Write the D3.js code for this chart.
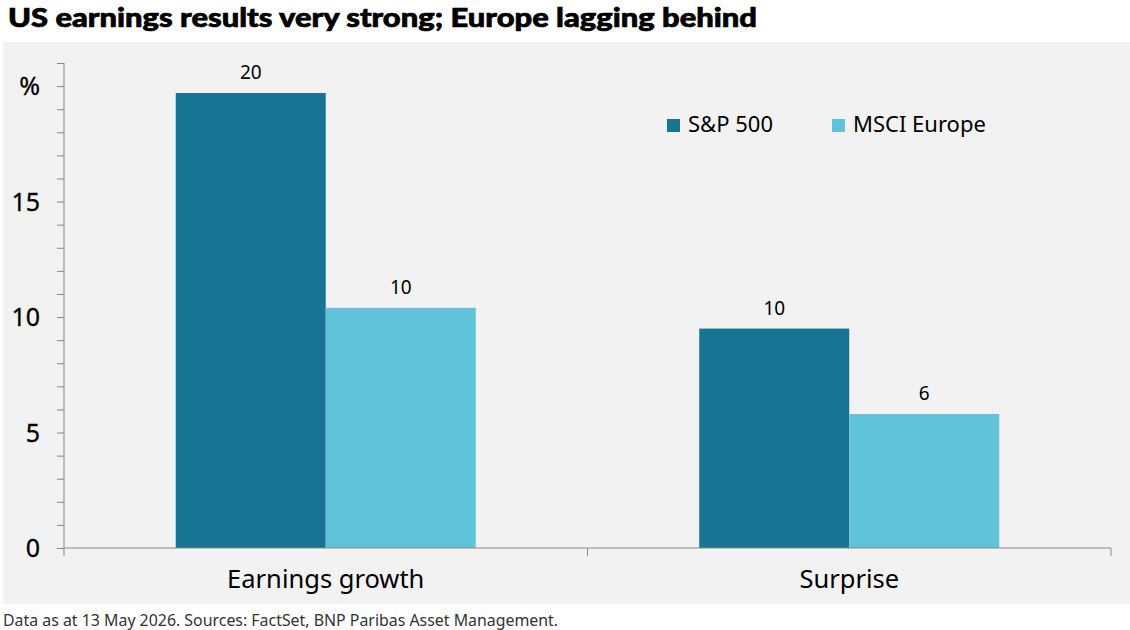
<!DOCTYPE html>
<html><head><meta charset="utf-8">
<script src="https://cdn.jsdelivr.net/npm/d3@7"></script>
<style>body{margin:0;background:#fff;} text{font-family:"Noto Sans",sans-serif;}</style>
</head><body>
<svg id="c" width="1130" height="630"></svg>
<script>
const categories = ["Earnings growth", "Surprise"];
const seriesNames = ["S&P 500", "MSCI Europe"];
const sp500 = [19.7, 9.5];
const msciEurope = [10.4, 5.8];
const sp500Labels = ["20", "10"];
const msciLabels = ["10", "6"];
const yTicks = [0, 5, 10, 15, 20];
const yTickLabels = ["0", "5", "10", "15", "%"];
const colors = ["#177493", "#60c3d9"];

const svg = d3.select("#c");
svg.append("rect").attr("x",3).attr("y",42).attr("width",1127).attr("height",562).attr("fill","#f2f2f2");
svg.append("text").attr("x",8).attr("y",27).attr("font-size",27).attr("font-weight",900)
  .attr("fill","#000").attr("stroke","#000").attr("stroke-width",0.7)
  .attr("textLength",749).attr("lengthAdjust","spacingAndGlyphs")
  .style("font-family","Lato, 'Noto Sans', sans-serif")
  .text("US earnings results very strong; Europe lagging behind");

const left=64, right=1111, top0=63, bottom=548;
const y = d3.scaleLinear().domain([0,21]).range([bottom, top0]);
const x0 = d3.scaleBand().domain(categories).range([left,right]).paddingInner(0).paddingOuter(0);
const x1 = d3.scaleBand().domain(seriesNames).range([0,300]);
const groupOffset = (x0.bandwidth()-300)/2;

// y axis
const yAxis = d3.axisLeft(y).tickValues(d3.range(0,22,1)).tickSize(7).tickFormat("");
const gy = svg.append("g").attr("transform",`translate(${left},0)`).call(yAxis);
gy.selectAll("path, line").attr("stroke","#888").attr("stroke-width",1);
gy.select(".domain").attr("d",`M-0,${top0}V${bottom}`);
svg.selectAll(".ylab").data(yTicks).enter().append("text")
  .attr("x",40).attr("y",d=>y(d)+9).attr("text-anchor","end").attr("font-size",25).attr("fill","#000")
  .attr("stroke","#000").attr("stroke-width",0.3)
  .text((d,i)=>yTickLabels[i]);

// bars
const data = categories.map((c,i)=>[{c,s:seriesNames[0],v:sp500[i],l:sp500Labels[i]},{c,s:seriesNames[1],v:msciEurope[i],l:msciLabels[i]}]);
const g = svg.append("g");
data.flat().forEach(d=>{
  const bx = x0(d.c)+groupOffset+x1(d.s);
  g.append("rect").attr("x",bx).attr("y",y(d.v)).attr("width",x1.bandwidth()).attr("height",bottom-y(d.v))
    .attr("fill",colors[seriesNames.indexOf(d.s)]);
  g.append("text").attr("x",bx+x1.bandwidth()/2).attr("y",y(d.v)-14).attr("text-anchor","middle")
    .attr("font-size",19).attr("fill","#000").text(d.l);
});

// x axis
const xAxis = d3.axisBottom(x0).tickSize(0).tickFormat("");
const gx = svg.append("g").attr("transform",`translate(0,${bottom})`).call(xAxis);
gx.select(".domain").attr("stroke","#888").attr("d",`M${left},0H${right}`);
[left, x0(categories[1]), right].forEach(px=>{
  svg.append("line").attr("x1",px).attr("x2",px).attr("y1",bottom).attr("y2",bottom+8).attr("stroke","#888");
});
categories.forEach(c=>{
  svg.append("text").attr("x",x0(c)+x0.bandwidth()/2).attr("y",588).attr("text-anchor","middle")
    .attr("font-size",25.5).attr("fill","#000").text(c);
});

// legend
const legX = [667, 832];
seriesNames.forEach((s,i)=>{
  svg.append("rect").attr("x",legX[i]).attr("y",119).attr("width",13).attr("height",13).attr("fill",colors[i]);
  svg.append("text").attr("x",legX[i]+21).attr("y",132).attr("font-size",22).attr("fill","#000").text(s);
});

svg.append("text").attr("x",3).attr("y",626).attr("font-size",15.9).attr("fill","#333")
  .text("Data as at 13 May 2026. Sources: FactSet, BNP Paribas Asset Management.");
</script>
</body></html>
